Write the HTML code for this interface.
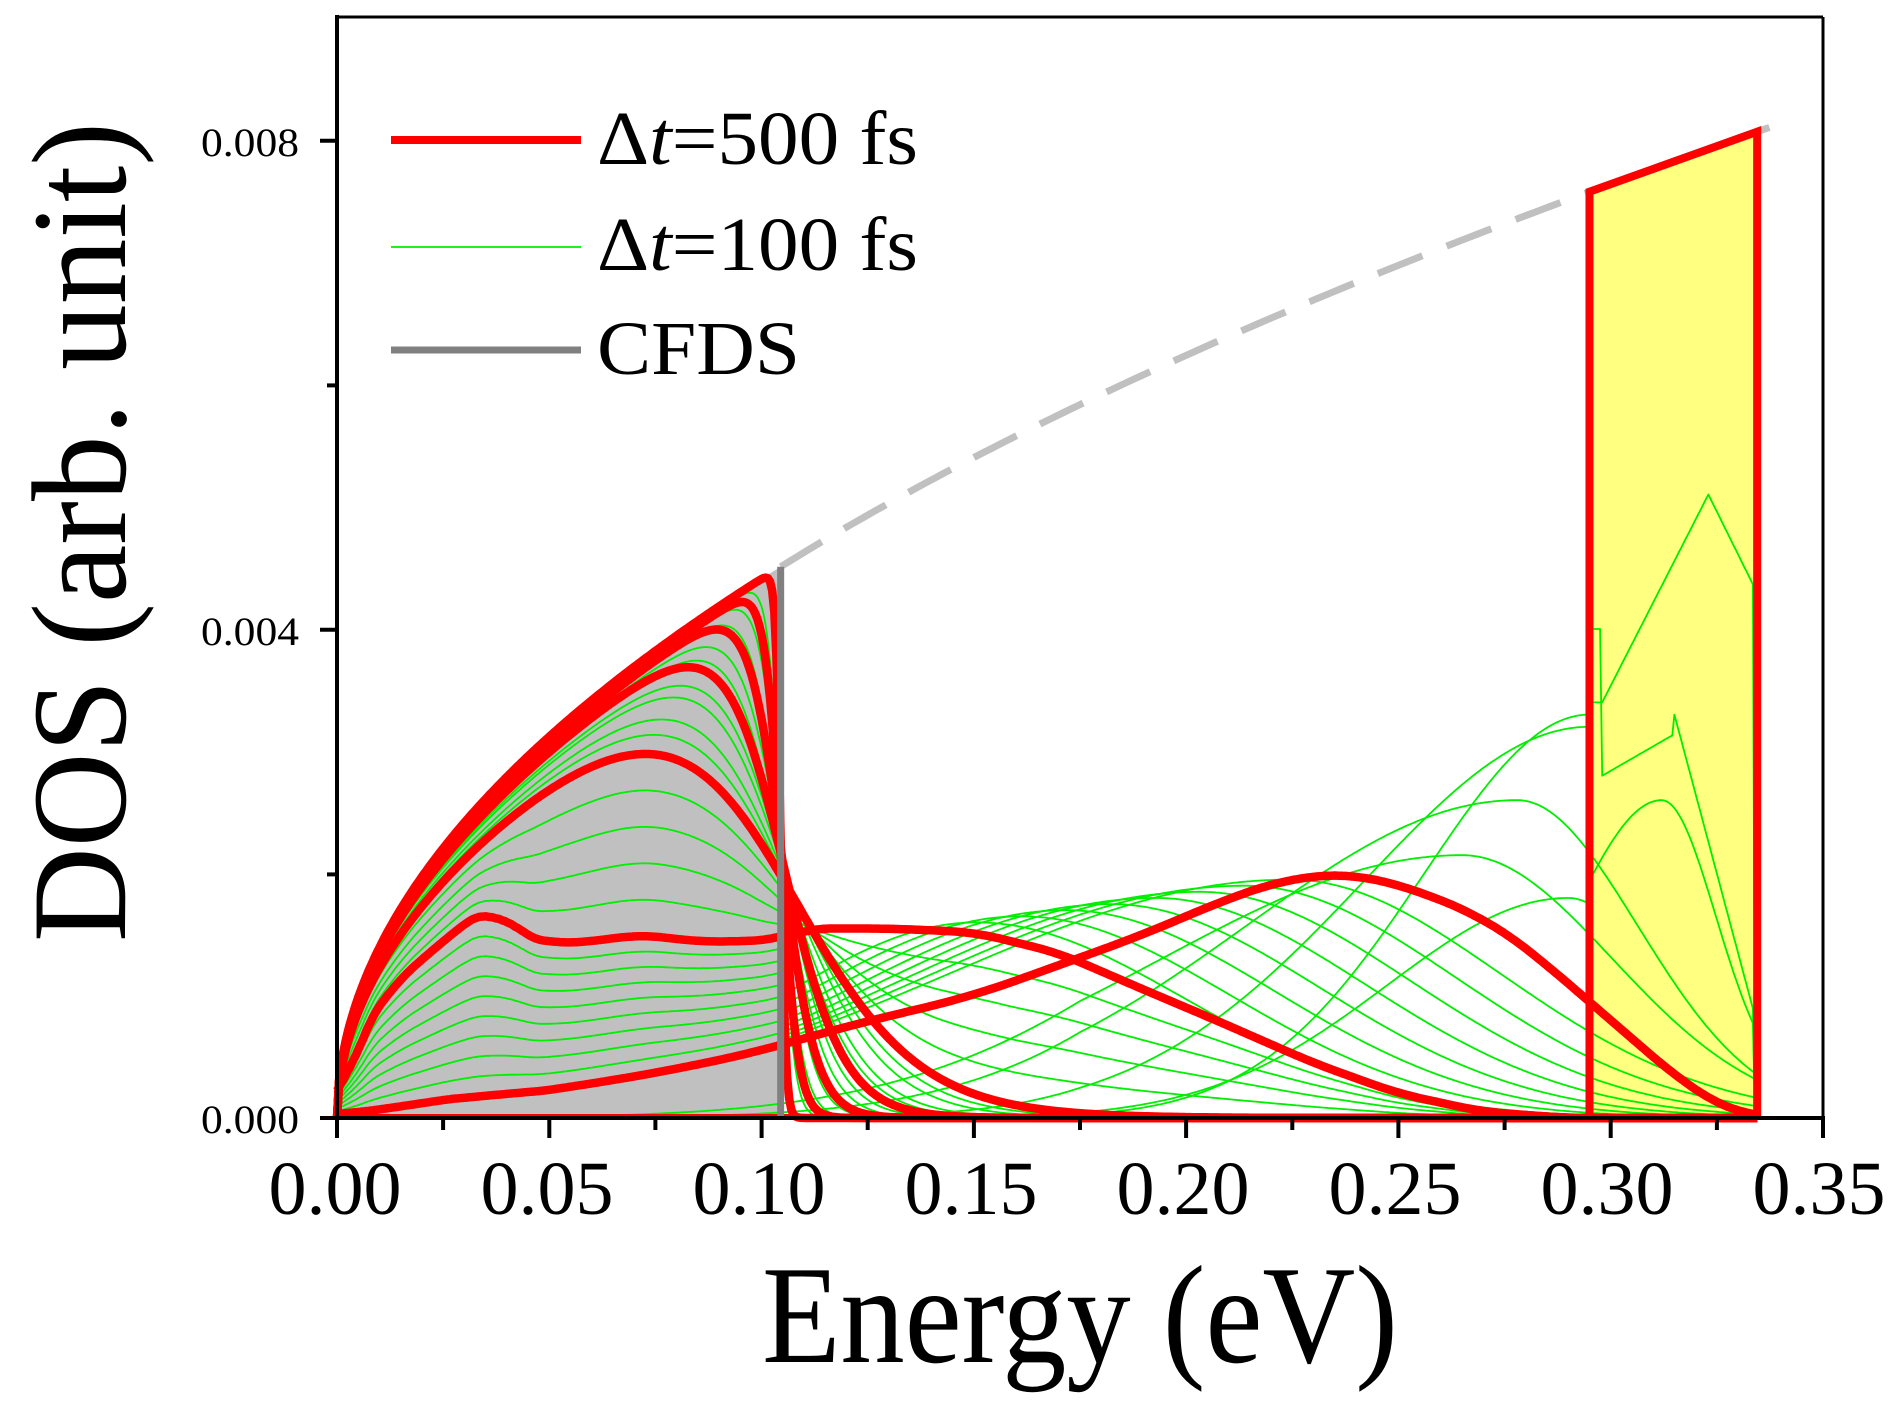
<!DOCTYPE html>
<html><head><meta charset="utf-8"><style>
html,body{margin:0;padding:0;background:#fff;}
svg{display:block;}
text{font-family:"Liberation Serif",serif;fill:#000;}
</style></head><body>
<svg id="s" width="1896" height="1410" viewBox="0 0 1896 1410" xmlns="http://www.w3.org/2000/svg">
<g id="plot"></g>
<line x1="337" y1="17" x2="1823" y2="17" stroke="#000" stroke-width="3"/>
<line x1="1823" y1="17" x2="1823" y2="1120" stroke="#000" stroke-width="3"/>
<line x1="337" y1="15" x2="337" y2="1120" stroke="#000" stroke-width="4"/>
<line x1="335" y1="1118" x2="1825" y2="1118" stroke="#000" stroke-width="4"/>
<g stroke="#000" stroke-width="4">
<line x1="320" y1="1118" x2="337" y2="1118"/>
<line x1="320" y1="629.8" x2="337" y2="629.8"/>
<line x1="320" y1="140.8" x2="337" y2="140.8"/>
<line x1="327" y1="874.4" x2="337" y2="874.4"/>
<line x1="327" y1="385.4" x2="337" y2="385.4"/>
<line x1="337" y1="1118" x2="337" y2="1138"/>
<line x1="549.3" y1="1118" x2="549.3" y2="1138"/>
<line x1="761.6" y1="1118" x2="761.6" y2="1138"/>
<line x1="973.9" y1="1118" x2="973.9" y2="1138"/>
<line x1="1186.1" y1="1118" x2="1186.1" y2="1138"/>
<line x1="1398.4" y1="1118" x2="1398.4" y2="1138"/>
<line x1="1610.7" y1="1118" x2="1610.7" y2="1138"/>
<line x1="1823" y1="1118" x2="1823" y2="1138"/>
<line x1="443.1" y1="1118" x2="443.1" y2="1130"/>
<line x1="655.4" y1="1118" x2="655.4" y2="1130"/>
<line x1="867.7" y1="1118" x2="867.7" y2="1130"/>
<line x1="1080" y1="1118" x2="1080" y2="1130"/>
<line x1="1292.3" y1="1118" x2="1292.3" y2="1130"/>
<line x1="1504.6" y1="1118" x2="1504.6" y2="1130"/>
<line x1="1716.9" y1="1118" x2="1716.9" y2="1130"/>
</g>
<g font-size="40" text-anchor="end">
<text x="299" y="1133" textLength="98" lengthAdjust="spacingAndGlyphs">0.000</text>
<text x="299" y="645" textLength="98" lengthAdjust="spacingAndGlyphs">0.004</text>
<text x="299" y="156" textLength="98" lengthAdjust="spacingAndGlyphs">0.008</text>
</g>
<g font-size="76" text-anchor="middle">
<text x="335" y="1214">0.00</text>
<text x="547" y="1214">0.05</text>
<text x="759" y="1214">0.10</text>
<text x="971" y="1214">0.15</text>
<text x="1183" y="1214">0.20</text>
<text x="1395" y="1214">0.25</text>
<text x="1607" y="1214">0.30</text>
<text x="1819" y="1214">0.35</text>
</g>
<text x="762" y="1362" font-size="140" textLength="636" lengthAdjust="spacingAndGlyphs">Energy (eV)</text>
<text transform="translate(125,942) rotate(-90)" font-size="135" textLength="820" lengthAdjust="spacingAndGlyphs">DOS (arb. unit)</text>
<line x1="391" y1="140" x2="581" y2="140" stroke="#ff0000" stroke-width="8"/>
<line x1="391" y1="247" x2="581" y2="247" stroke="#00ee00" stroke-width="1.8"/>
<line x1="391" y1="350" x2="581" y2="350" stroke="#808080" stroke-width="7"/>
<g font-size="76">
<text x="597" y="164" textLength="321" lengthAdjust="spacingAndGlyphs">Δ<tspan font-style="italic">t</tspan>=500 fs</text>
<text x="597" y="270" textLength="321" lengthAdjust="spacingAndGlyphs">Δ<tspan font-style="italic">t</tspan>=100 fs</text>
<text x="597" y="374" textLength="203" lengthAdjust="spacingAndGlyphs">CFDS</text>
</g>
</svg>
<script>
(function(){
var NS="http://www.w3.org/2000/svg",G=document.getElementById("plot");
function X(x){return 337+x*4245.7;}
function Y(y){return 1118-122.25*y;}
function g(x){return 13.95*Math.sqrt(Math.max(x,0));}
function F(x,mu,kT){return 1/(1+Math.exp((x-mu)/kT));}
function lin(pts,x){if(x<=pts[0][0])return pts[0][1];for(var i=1;i<pts.length;i++){if(x<=pts[i][0]){var a=pts[i-1],b=pts[i];return a[1]+(b[1]-a[1])*(x-a[0])/(b[0]-a[0]);}}return pts[pts.length-1][1];}
function smooth(fn,h){return function(x){var s=0,n=0;for(var k=-4;k<=4;k++){var xx=x+k*h/4;if(xx<0)xx=0;s+=fn(xx);n++;}return s/n;};}
function add(tag,attrs){var e=document.createElementNS(NS,tag);for(var k in attrs)e.setAttribute(k,attrs[k]);G.appendChild(e);return e;}
function path(fn,x0,x1){var d="",n=0;for(var x=x0;x<=x1+1e-9;x+=0.0005){var y=Math.max(0,fn(x));d+=(n?"L":"M")+X(x).toFixed(1)+" "+Y(y).toFixed(1);n++;}return d;}
var d="M"+X(0)+" "+Y(0);for(var x=0;x<=0.1045;x+=0.0005)d+="L"+X(x).toFixed(1)+" "+Y(g(x)).toFixed(1);d+="L"+X(0.1045)+" "+Y(0)+"Z";
add("path",{d:d,fill:"#c0c0c0"});
d="M"+X(0.295)+" "+Y(0);for(var x=0.295;x<=0.3345;x+=0.0005)d+="L"+X(x).toFixed(1)+" "+Y(g(x)).toFixed(1);d+="L"+X(0.3345)+" "+Y(0)+"Z";
add("path",{d:d,fill:"#ffff80"});
function fermiCurve(a,kT){return function(x){return g(x)*a*F(x,0.1045,kT);};}
var K5=[[0,0],[0.004,0.6],[0.012,1.05],[0.025,1.45],[0.035,1.72],[0.038,1.73],[0.042,1.5],[0.05,1.43],[0.06,1.44],[0.07,1.5],[0.077,1.48],[0.085,1.44],[0.1,1.45],[0.105,1.47],[0.11,1.55],[0.13,1.55],[0.15,1.52],[0.17,1.35],[0.19,1.05],[0.207,0.8],[0.23,0.45],[0.25,0.2],[0.27,0.05],[0.29,0],[0.34,0]];
var K6=[[0,0.02],[0.02,0.12],[0.035,0.2],[0.04,0.18],[0.06,0.28],[0.08,0.4],[0.1,0.55],[0.105,0.6],[0.12,0.75],[0.15,1.0],[0.17,1.25],[0.19,1.5],[0.21,1.8],[0.225,1.97],[0.235,2.0],[0.245,1.97],[0.255,1.85],[0.26,1.78],[0.27,1.65],[0.28,1.4],[0.29,1.1],[0.3,0.8],[0.31,0.5],[0.32,0.2],[0.33,0.02],[0.335,0],[0.34,0]];
var k5=smooth(function(x){return lin(K5,x);},0.006), k6=smooth(function(x){return lin(K6,x);},0.01);
var k4=fermiCurve(0.88,0.0145);
function bump(c,A,wl,wr){return function(x){var w=x<c?wl:wr;return A*Math.exp(-Math.pow((x-c)/w,2));};}
var greens=[];
[0.0015,0.0025,0.0035,0.005,0.006,0.008,0.009,0.011,0.0125].forEach(function(kT){var a=1-0.12*(kT-0.001)/0.0135;greens.push(fermiCurve(a,kT));});
[0.2,0.4,0.6,0.8].forEach(function(s){greens.push(function(x){return (1-s)*k4(x)+s*k5(x);});});
for(var k=1;k<=8;k++){(function(k){var s=k/9;var c=0.14+0.095*s,A=1.55+0.45*s,wl=0.06+0.06*s,wr=0.07;var b=bump(c,A,wl,wr);
greens.push(function(x){return x<=0.105?(1-s)*k5(x)+s*k6(x):Math.min(b(x),(1-s)*1.55+s*0.6+(x-0.105)*30);});})(k);}
[[0.265,2.15,0.1,0.05],[0.278,2.6,0.09,0.04]].forEach(function(p){var b=bump(p[0],p[1],p[2],p[3]);greens.push(function(x){return x<0.335?b(x)*Math.min(1,0.3+x*4):0;});});
// curve rising to 3.2 at yellow edge then 3.3 bump inside
greens.push(function(x){if(x<0.295)return bump(0.295,3.2,0.075,0.03)(x)*Math.min(1,0.3+x*4);if(x<0.334)return x<0.298?4.0:(x<0.315?2.8+(x-0.298)*20:3.3-(x-0.315)*130>0.3?3.3-(x-0.315)*130:0.3);return 0;});
greens.push(function(x){return x<0.295?bump(0.29,2.0,0.06,0.03)(x)*0.9:(x<0.334?bump(0.312,2.4,0.03,0.018)(x)+0.2:0);});
greens.push(function(x){return x<0.295?bump(0.295,3.3,0.055,0.03)(x)*Math.min(1,0.3+x*4):(x<0.334?(x<0.298?3.4:(x<0.323?3.4+(x-0.298)*68:5.1-(x-0.323)*70)):0);});
greens.forEach(function(fn){add("path",{d:path(fn,0,0.3345),fill:"none",stroke:"#00ee00","stroke-width":"1.8","stroke-linejoin":"round"});});
// dashed continuation (before reds)
d="";var n=0;for(var x=0.1045;x<=0.3435;x+=0.002){d+=(n?"L":"M")+X(x).toFixed(1)+" "+Y(g(x)).toFixed(1);n++;}
add("path",{d:d,fill:"none",stroke:"#c0c0c0","stroke-width":"7","stroke-dasharray":"48 26"});
var reds=[fermiCurve(1,0.0006),fermiCurve(0.99,0.002),fermiCurve(0.98,0.004),fermiCurve(0.96,0.007),k4,k5,k6];
reds.forEach(function(fn){add("path",{d:path(fn,0,0.3345),fill:"none",stroke:"#ff0000","stroke-width":"8.5","stroke-linejoin":"round"});});
d="M"+X(0.295)+" "+Y(0)+"L"+X(0.295)+" "+Y(g(0.295)).toFixed(1)+"L"+X(0.3345)+" "+Y(g(0.3345)).toFixed(1)+"L"+X(0.3345)+" "+Y(0);
add("path",{d:d,fill:"none",stroke:"#ff0000","stroke-width":"8","stroke-linejoin":"miter"});
add("line",{x1:X(0),y1:Y(0)-2,x2:X(0.3345),y2:Y(0)-2,stroke:"#ff0000","stroke-width":"4"});
add("line",{x1:X(0.1045),y1:Y(0),x2:X(0.1045),y2:Y(g(0.1045)),stroke:"#808080","stroke-width":"7"});
})();
</script>
</body></html>
